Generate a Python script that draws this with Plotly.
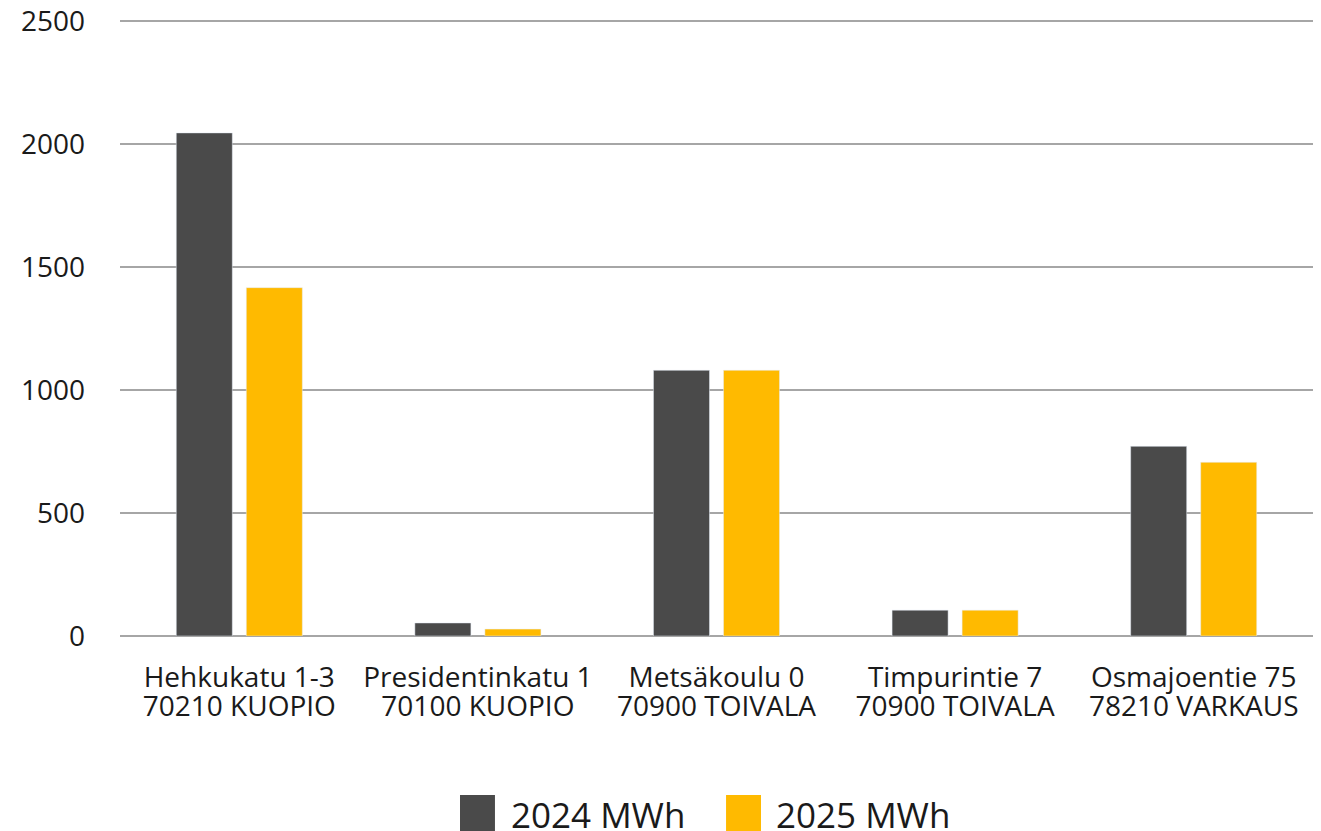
import plotly.graph_objects as go

streets = ["Hehkukatu 1-3", "Presidentinkatu 1", "Metsäkoulu 0", "Timpurintie 7", "Osmajoentie 75"]
towns = ["70210 KUOPIO", "70100 KUOPIO", "70900 TOIVALA", "70900 TOIVALA", "78210 VARKAUS"]
mwh_2024 = [2045, 53, 1080, 105, 771]
mwh_2025 = [1416, 28, 1080, 105, 706]
series_names = ["2024 MWh", "2025 MWh"]
series_colors = ["#4a4a4a", "#ffba00"]
y_ticks = [0, 500, 1000, 1500, 2000, 2500]

FONT = "Open Sans"
TXT = "#1a1a1a"

fig = go.Figure()
for name, vals, col in zip(series_names, [mwh_2024, mwh_2025], series_colors):
    fig.add_trace(go.Bar(x=list(range(len(streets))), y=vals, name=name, marker_color=col,
                         showlegend=False))

# Legend drawn as large swatches + labels below the plot
legend_x = [(0.285, 0.3143, 0.326), (0.508, 0.5373, 0.5482)]
shapes = []
annotations = []
for (x0, x1, xt), name, col in zip(legend_x, series_names, series_colors):
    shapes.append(dict(type="rect", xref="paper", yref="paper", x0=x0, x1=x1,
                       y0=-0.2577, y1=-0.3160, fillcolor=col, line=dict(width=0)))
    annotations.append(dict(text=name, xref="paper", yref="paper", x=xt, y=-0.2885,
                            xanchor="left", yanchor="middle", showarrow=False,
                            font=dict(size=35, family=FONT, color=TXT)))

fig.update_layout(
    width=1313, height=823,
    margin=dict(l=112, r=8, t=11, b=195),
    paper_bgcolor="white", plot_bgcolor="white",
    barmode="group", bargap=0.413, bargroupgap=0.2,
    font=dict(family=FONT, color=TXT, size=28),
    showlegend=False,
    shapes=shapes, annotations=annotations,
    xaxis=dict(type="linear", range=[-0.5, len(streets) - 0.5],
               tickvals=list(range(len(streets))), ticktext=streets,
               showgrid=False, showline=False, zeroline=False, ticks="", automargin=False,
               ticklabeloverflow="allow",
               tickfont=dict(size=28, family=FONT, color=TXT), ticklabelstandoff=22),
    xaxis2=dict(overlaying="x", anchor="y", side="bottom", type="linear",
                range=[-0.5, len(towns) - 0.5], tickvals=list(range(len(towns))), ticktext=towns,
                showgrid=False, showline=False, zeroline=False, ticks="", automargin=False,
                ticklabeloverflow="allow",
                tickfont=dict(size=28, family=FONT, color=TXT), ticklabelstandoff=51),
    yaxis=dict(range=[0, 2508], tickvals=y_ticks, showgrid=True, gridcolor="#a6a6a6",
               gridwidth=2, zeroline=True, zerolinecolor="#a6a6a6", zerolinewidth=2,
               showline=False, ticks="", automargin=False, ticklabeloverflow="allow",
               tickfont=dict(size=28, family=FONT, color=TXT), ticklabelstandoff=34),
)
# invisible helper trace so the second (town) tick row is rendered
fig.add_trace(go.Scatter(x=list(range(len(towns))), y=[None] * len(towns), xaxis="x2",
                         mode="markers", showlegend=False, hoverinfo="skip"))

fig.write_html("out.html")
